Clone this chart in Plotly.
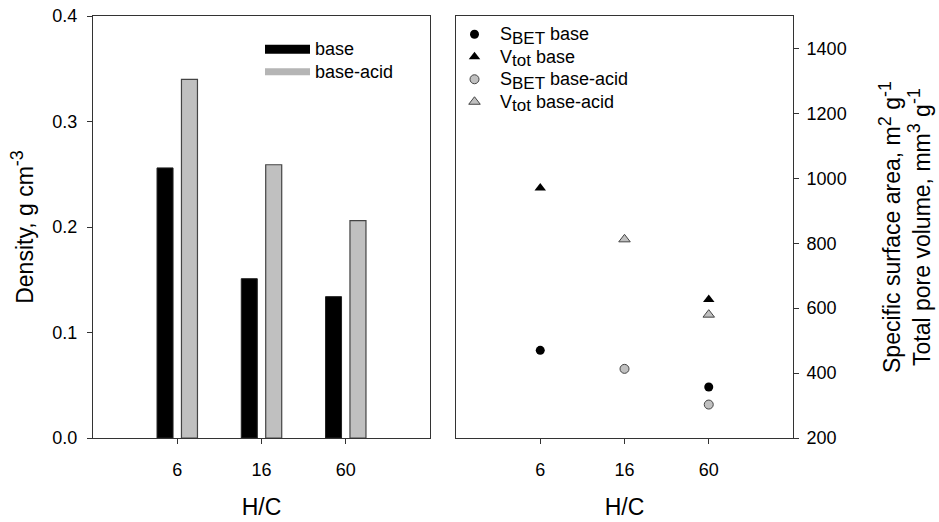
import plotly.graph_objects as go

# ---- data ----
categories = ["6", "16", "60"]
density_base = [0.256, 0.151, 0.134]
density_acid = [0.340, 0.259, 0.206]

sbet_base = [470, None, 357]
vtot_base = [970, None, 627]
sbet_acid = [None, 413, 303]
vtot_acid = [None, 812, 580]

xpos = list(range(1, len(categories) + 1))

FONT = "Liberation Sans, Arial, sans-serif"
AX = "#333333"
TICK = 18
TITLE = 23
LEG = 18
LEGBASE = 15


def big(t):
    return '<span style="font-size:%dpx">%s</span>' % (LEG, t)


def sub(t):
    return '<sub><span style="font-size:%dpx">%s</span></sub>' % (LEG - 1, t)


def sup(t):
    return '<sup><span style="font-size:%dpx">%s</span></sup>' % (TITLE - 5, t)


fig = go.Figure()

# ---- left panel: bars ----
fig.add_trace(go.Bar(x=xpos, y=density_base, width=0.19, offset=-0.24,
                     marker=dict(color="black", line=dict(color="#222", width=1)),
                     showlegend=False, xaxis="x", yaxis="y"))
fig.add_trace(go.Bar(x=xpos, y=density_acid, width=0.19, offset=0.05,
                     marker=dict(color="#c0c0c0", line=dict(color="#444", width=1.2)),
                     showlegend=False, xaxis="x", yaxis="y"))
# legend entries for bars (wide swatches)
fig.add_trace(go.Scatter(x=[None], y=[None], mode="lines", name=big("base"),
                         line=dict(color="black", width=9), legend="legend",
                         xaxis="x", yaxis="y"))
fig.add_trace(go.Scatter(x=[None], y=[None], mode="lines", name=big("base-acid"),
                         line=dict(color="#b5b5b5", width=7), legend="legend",
                         xaxis="x", yaxis="y"))

# ---- right panel: markers ----
fig.add_trace(go.Scatter(x=xpos, y=sbet_base, mode="markers",
                         name=big("S" + sub("BET") + " base"),
                         marker=dict(symbol="circle", size=9, color="black"),
                         legend="legend2", xaxis="x2", yaxis="y2"))
fig.add_trace(go.Scatter(x=xpos, y=vtot_base, mode="markers",
                         name=big("V" + sub("tot") + " base"),
                         marker=dict(symbol="triangle-up", size=10, color="black"),
                         legend="legend2", xaxis="x2", yaxis="y2"))
fig.add_trace(go.Scatter(x=xpos, y=sbet_acid, mode="markers",
                         name=big("S" + sub("BET") + " base-acid"),
                         marker=dict(symbol="circle", size=9, color="#c0c0c0",
                                     line=dict(color="#444", width=1)),
                         legend="legend2", xaxis="x2", yaxis="y2"))
fig.add_trace(go.Scatter(x=xpos, y=vtot_acid, mode="markers",
                         name=big("V" + sub("tot") + " base-acid"),
                         marker=dict(symbol="triangle-up", size=10, color="#c0c0c0",
                                     line=dict(color="#444", width=1)),
                         legend="legend2", xaxis="x2", yaxis="y2"))

W, H = 939, 522
ydom = [1 - 438 / H, 1 - 16 / H]

common_x = dict(range=[0, 4], tickvals=xpos, ticktext=categories, showline=True,
                linecolor=AX, linewidth=1, mirror=True, ticks="outside", ticklen=5,
                tickcolor=AX, showgrid=False, zeroline=False, automargin=False,
                tickfont=dict(size=TICK, color="black"), ticklabelstandoff=10,
                title=dict(text="H/C", font=dict(size=TITLE, color="black"), standoff=20))

fig.update_layout(
    width=W, height=H,
    margin=dict(l=0, r=0, t=0, b=0),
    paper_bgcolor="white", plot_bgcolor="white",
    font=dict(family=FONT, color="black"),
    barmode="overlay",
    xaxis=dict(domain=[93 / W, 430 / W], anchor="y", **common_x),
    yaxis=dict(domain=ydom, anchor="x", range=[0, 0.4], tickvals=[0, 0.1, 0.2, 0.3, 0.4],
               tickformat=".1f", showline=True, linecolor=AX, linewidth=1, mirror=True,
               ticks="outside", ticklen=5, tickcolor=AX, showgrid=False, zeroline=False,
               automargin=False, tickfont=dict(size=TICK, color="black"), ticklabelstandoff=6,
               title=dict(text="Density, g cm" + sup("-3"), font=dict(size=TITLE, color="black"),
                          standoff=12)),
    xaxis2=dict(domain=[456 / W, 793 / W], anchor="y2", **common_x),
    yaxis2=dict(domain=ydom, anchor="x2", side="right", range=[200, 1500],
                tickvals=[200, 400, 600, 800, 1000, 1200, 1400],
                showline=True, linecolor=AX, linewidth=1, mirror=True,
                ticks="outside", ticklen=5, tickcolor=AX, showgrid=False, zeroline=False,
                automargin=False, tickfont=dict(size=TICK, color="black"), ticklabelstandoff=4,
                title=dict(text="Specific surface area, m" + sup("2") + " g" + sup("-1") + "<br>"
                                "Total pore volume, mm" + sup("3") + " g" + sup("-1"),
                           font=dict(size=TITLE, color="black"), standoff=38)),
    legend=dict(x=260 / W, y=1 - 33 / H, xanchor="left", yanchor="top",
                bgcolor="rgba(0,0,0,0)", font=dict(size=LEGBASE, color="black"),
                tracegroupgap=0, itemwidth=45),
    legend2=dict(x=449 / W, y=1 - 18 / H, xanchor="left", yanchor="top",
                 bgcolor="rgba(0,0,0,0)", font=dict(size=LEGBASE, color="black"),
                 tracegroupgap=0, itemwidth=41),
)

fig.write_html("out.html")
